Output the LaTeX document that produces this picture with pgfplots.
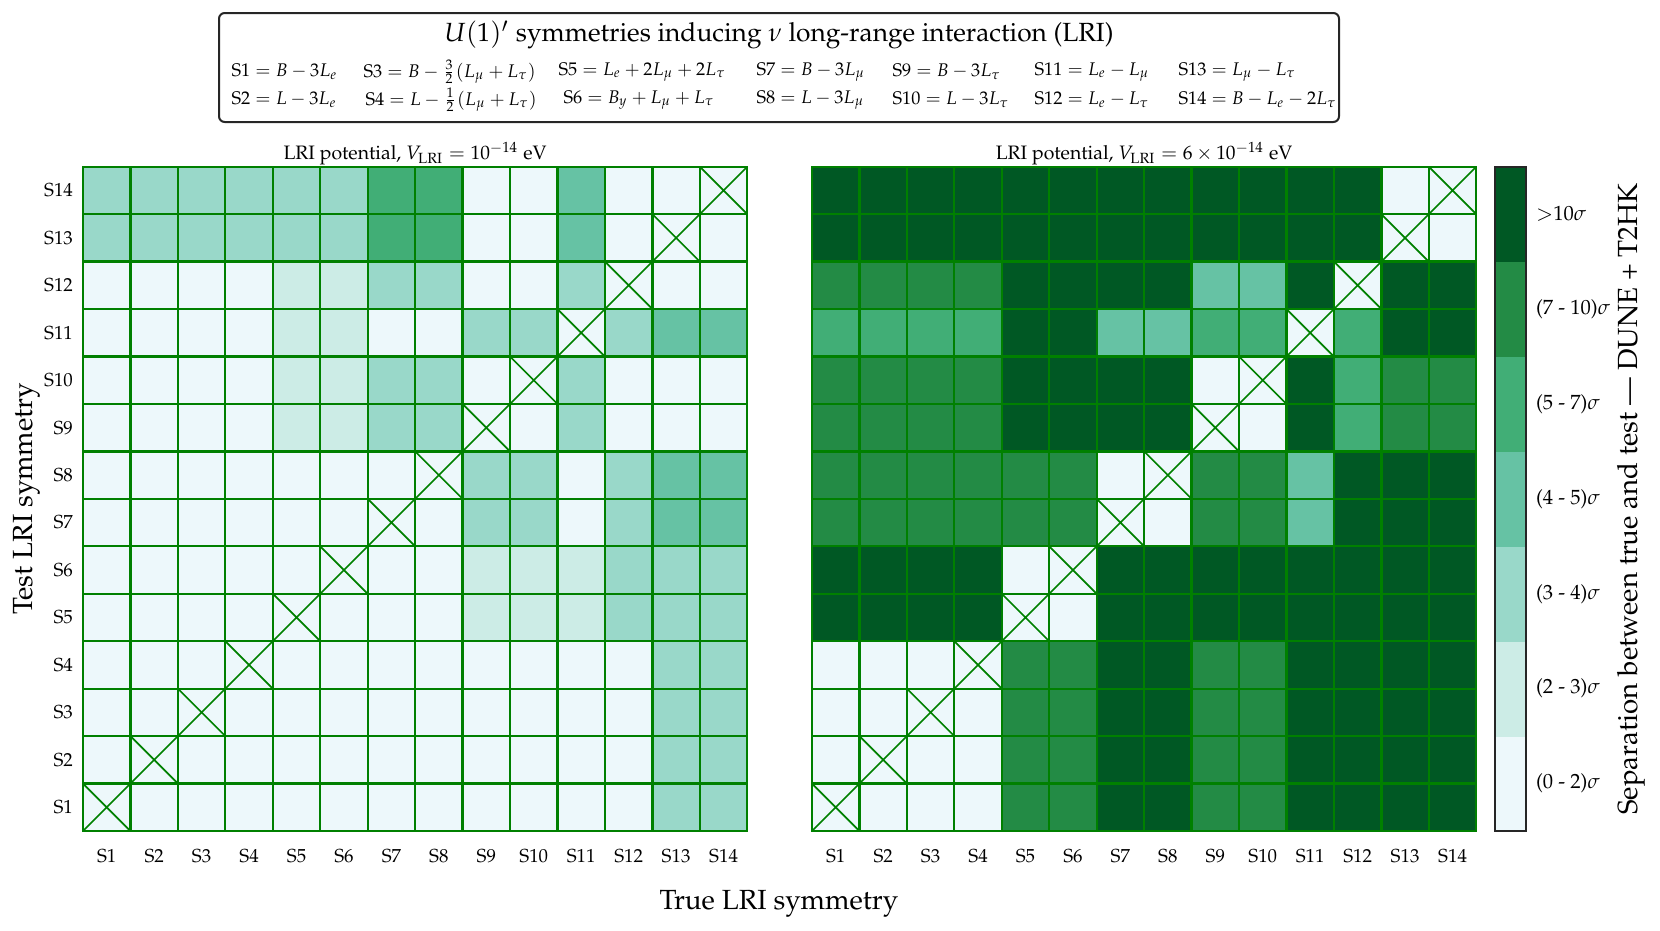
\documentclass[border=0pt]{standalone}
\usepackage[T1]{fontenc}
\usepackage{mathpazo}
\usepackage{amsmath}
\usepackage{pgfplots}
\pgfplotsset{compat=1.18}
\definecolor{cellgrid}{RGB}{0,128,0}

\pgfplotsset{
  sepmap/.style={
    colormap={bugn}{rgb255(0)=(237,248,251) rgb255(1)=(204,236,230)
      rgb255(2)=(153,216,201) rgb255(3)=(102,194,164) rgb255(4)=(65,174,118)
      rgb255(5)=(35,139,69) rgb255(6)=(0,88,36)},
    point meta min=0, point meta max=6,
  },
  heat/.style={
    sepmap,
    set layers=axis on top,
    scale only axis, width=232.5pt, height=232.5pt,
    xmin=0.5, xmax=14.5, ymin=0.5, ymax=14.5,
    xtick={1,...,14}, ytick={1,...,14},
    minor xtick={1.5,2.5,...,13.5}, minor ytick={1.5,2.5,...,13.5},
    xticklabels={S1,S2,S3,S4,S5,S6,S7,S8,S9,S10,S11,S12,S13,S14},
    major tick length=0pt, minor tick length=0pt,
    grid=minor, minor grid style={cellgrid, line width=0.8pt},
    axis line style={cellgrid, line width=0.8pt},
    tick label style={font=\fontsize{6.6}{8}\selectfont},
    xticklabel style={yshift=-3pt},
    title style={font=\fontsize{6.8}{8}\selectfont, yshift=-8.9pt},
    ylabel style={font=\fontsize{9.7}{12}\selectfont,
      at={(axis description cs:-0.085,0.5)}, anchor=center},
  },
  heatcell/.style={scatter, only marks, mark=square*, mark size=8.4pt,
    point meta=explicit,
    scatter/use mapped color={draw=mapped color, fill=mapped color}},
  diagx/.style={only marks, mark=x, mark size=11.74pt, cellgrid,
    mark options={line width=0.6pt}, forget plot},
}

\newcommand\diagcross{%
  \addplot[diagx] coordinates {(1,1)(2,2)(3,3)(4,4)(5,5)(6,6)(7,7)
    (8,8)(9,9)(10,10)(11,11)(12,12)(13,13)(14,14)};}

\begin{document}
\begin{tikzpicture}[x=0.35pt, y=-0.35pt]

% legend box with the symmetry definitions
\draw[black!85, line width=0.7pt, rounded corners=2pt] (219,13) rectangle (1339,122);
\node[font=\fontsize{9.2}{11}\selectfont] at (779,35) {$U(1)'$ symmetries inducing $\nu$ long-range interaction (LRI)};
\begin{scope}[every node/.style={anchor=west, font=\fontsize{6.4}{7.5}\selectfont, inner sep=0pt}]
  \node at (231,72) {S1${}=B-3L_e$};
  \node at (231,100) {S2${}=L-3L_e$};
  \node at (363,72) {S3${}=B-\tfrac{3}{2}(L_\mu+L_\tau)$};
  \node at (365,100) {S4${}=L-\tfrac{1}{2}(L_\mu+L_\tau)$};
  \node at (558,72) {S5${}=L_e+2L_\mu+2L_\tau$};
  \node at (563,100) {S6${}=B_y+L_\mu+L_\tau$};
  \node at (756,72) {S7${}=B-3L_\mu$};
  \node at (756,100) {S8${}=L-3L_\mu$};
  \node at (892,72) {S9${}=B-3L_\tau$};
  \node at (892,100) {S10${}=L-3L_\tau$};
  \node at (1034,72) {S11${}=L_e-L_\mu$};
  \node at (1034,100) {S12${}=L_e-L_\tau$};
  \node at (1178,72) {S13${}=L_\mu-L_\tau$};
  \node at (1178,100) {S14${}=B-L_e-2L_\tau$};
\end{scope}

\begin{axis}[heat, at={(29.05pt,-290.85pt)}, anchor=south west,
  yticklabels={S1,S2,S3,S4,S5,S6,S7,S8,S9,S10,S11,S12,S13,S14},
  ylabel={Test LRI symmetry},
  title={LRI potential, $V_{\mathrm{LRI}}=10^{-14}$ eV}]
\addplot[heatcell] coordinates {
(1,1)[0] (2,1)[0] (3,1)[0] (4,1)[0] (5,1)[0] (6,1)[0] (7,1)[0] (8,1)[0] (9,1)[0] (10,1)[0] (11,1)[0] (12,1)[0] (13,1)[2] (14,1)[2]
(1,2)[0] (2,2)[0] (3,2)[0] (4,2)[0] (5,2)[0] (6,2)[0] (7,2)[0] (8,2)[0] (9,2)[0] (10,2)[0] (11,2)[0] (12,2)[0] (13,2)[2] (14,2)[2]
(1,3)[0] (2,3)[0] (3,3)[0] (4,3)[0] (5,3)[0] (6,3)[0] (7,3)[0] (8,3)[0] (9,3)[0] (10,3)[0] (11,3)[0] (12,3)[0] (13,3)[2] (14,3)[2]
(1,4)[0] (2,4)[0] (3,4)[0] (4,4)[0] (5,4)[0] (6,4)[0] (7,4)[0] (8,4)[0] (9,4)[0] (10,4)[0] (11,4)[0] (12,4)[0] (13,4)[2] (14,4)[2]
(1,5)[0] (2,5)[0] (3,5)[0] (4,5)[0] (5,5)[0] (6,5)[0] (7,5)[0] (8,5)[0] (9,5)[1] (10,5)[1] (11,5)[1] (12,5)[2] (13,5)[2] (14,5)[2]
(1,6)[0] (2,6)[0] (3,6)[0] (4,6)[0] (5,6)[0] (6,6)[0] (7,6)[0] (8,6)[0] (9,6)[1] (10,6)[1] (11,6)[1] (12,6)[2] (13,6)[2] (14,6)[2]
(1,7)[0] (2,7)[0] (3,7)[0] (4,7)[0] (5,7)[0] (6,7)[0] (7,7)[0] (8,7)[0] (9,7)[2] (10,7)[2] (11,7)[0] (12,7)[2] (13,7)[3] (14,7)[3]
(1,8)[0] (2,8)[0] (3,8)[0] (4,8)[0] (5,8)[0] (6,8)[0] (7,8)[0] (8,8)[0] (9,8)[2] (10,8)[2] (11,8)[0] (12,8)[2] (13,8)[3] (14,8)[3]
(1,9)[0] (2,9)[0] (3,9)[0] (4,9)[0] (5,9)[1] (6,9)[1] (7,9)[2] (8,9)[2] (9,9)[0] (10,9)[0] (11,9)[2] (12,9)[0] (13,9)[0] (14,9)[0]
(1,10)[0] (2,10)[0] (3,10)[0] (4,10)[0] (5,10)[1] (6,10)[1] (7,10)[2] (8,10)[2] (9,10)[0] (10,10)[0] (11,10)[2] (12,10)[0] (13,10)[0] (14,10)[0]
(1,11)[0] (2,11)[0] (3,11)[0] (4,11)[0] (5,11)[1] (6,11)[1] (7,11)[0] (8,11)[0] (9,11)[2] (10,11)[2] (11,11)[0] (12,11)[2] (13,11)[3] (14,11)[3]
(1,12)[0] (2,12)[0] (3,12)[0] (4,12)[0] (5,12)[1] (6,12)[1] (7,12)[2] (8,12)[2] (9,12)[0] (10,12)[0] (11,12)[2] (12,12)[0] (13,12)[0] (14,12)[0]
(1,13)[2] (2,13)[2] (3,13)[2] (4,13)[2] (5,13)[2] (6,13)[2] (7,13)[4] (8,13)[4] (9,13)[0] (10,13)[0] (11,13)[3] (12,13)[0] (13,13)[0] (14,13)[0]
(1,14)[2] (2,14)[2] (3,14)[2] (4,14)[2] (5,14)[2] (6,14)[2] (7,14)[4] (8,14)[4] (9,14)[0] (10,14)[0] (11,14)[3] (12,14)[0] (13,14)[0] (14,14)[0]
};
\diagcross
\end{axis}

\begin{axis}[heat, at={(284.2pt,-290.85pt)}, anchor=south west,
  yticklabels={},
  title={LRI potential, $V_{\mathrm{LRI}}=6\times10^{-14}$ eV}]
\addplot[heatcell] coordinates {
(1,1)[0] (2,1)[0] (3,1)[0] (4,1)[0] (5,1)[5] (6,1)[5] (7,1)[6] (8,1)[6] (9,1)[5] (10,1)[5] (11,1)[6] (12,1)[6] (13,1)[6] (14,1)[6]
(1,2)[0] (2,2)[0] (3,2)[0] (4,2)[0] (5,2)[5] (6,2)[5] (7,2)[6] (8,2)[6] (9,2)[5] (10,2)[5] (11,2)[6] (12,2)[6] (13,2)[6] (14,2)[6]
(1,3)[0] (2,3)[0] (3,3)[0] (4,3)[0] (5,3)[5] (6,3)[5] (7,3)[6] (8,3)[6] (9,3)[5] (10,3)[5] (11,3)[6] (12,3)[6] (13,3)[6] (14,3)[6]
(1,4)[0] (2,4)[0] (3,4)[0] (4,4)[0] (5,4)[5] (6,4)[5] (7,4)[6] (8,4)[6] (9,4)[5] (10,4)[5] (11,4)[6] (12,4)[6] (13,4)[6] (14,4)[6]
(1,5)[6] (2,5)[6] (3,5)[6] (4,5)[6] (5,5)[0] (6,5)[0] (7,5)[6] (8,5)[6] (9,5)[6] (10,5)[6] (11,5)[6] (12,5)[6] (13,5)[6] (14,5)[6]
(1,6)[6] (2,6)[6] (3,6)[6] (4,6)[6] (5,6)[0] (6,6)[0] (7,6)[6] (8,6)[6] (9,6)[6] (10,6)[6] (11,6)[6] (12,6)[6] (13,6)[6] (14,6)[6]
(1,7)[5] (2,7)[5] (3,7)[5] (4,7)[5] (5,7)[5] (6,7)[5] (7,7)[0] (8,7)[0] (9,7)[5] (10,7)[5] (11,7)[3] (12,7)[6] (13,7)[6] (14,7)[6]
(1,8)[5] (2,8)[5] (3,8)[5] (4,8)[5] (5,8)[5] (6,8)[5] (7,8)[0] (8,8)[0] (9,8)[5] (10,8)[5] (11,8)[3] (12,8)[6] (13,8)[6] (14,8)[6]
(1,9)[5] (2,9)[5] (3,9)[5] (4,9)[5] (5,9)[6] (6,9)[6] (7,9)[6] (8,9)[6] (9,9)[0] (10,9)[0] (11,9)[6] (12,9)[4] (13,9)[5] (14,9)[5]
(1,10)[5] (2,10)[5] (3,10)[5] (4,10)[5] (5,10)[6] (6,10)[6] (7,10)[6] (8,10)[6] (9,10)[0] (10,10)[0] (11,10)[6] (12,10)[4] (13,10)[5] (14,10)[5]
(1,11)[4] (2,11)[4] (3,11)[4] (4,11)[4] (5,11)[6] (6,11)[6] (7,11)[3] (8,11)[3] (9,11)[4] (10,11)[4] (11,11)[0] (12,11)[4] (13,11)[6] (14,11)[6]
(1,12)[5] (2,12)[5] (3,12)[5] (4,12)[5] (5,12)[6] (6,12)[6] (7,12)[6] (8,12)[6] (9,12)[3] (10,12)[3] (11,12)[6] (12,12)[0] (13,12)[6] (14,12)[6]
(1,13)[6] (2,13)[6] (3,13)[6] (4,13)[6] (5,13)[6] (6,13)[6] (7,13)[6] (8,13)[6] (9,13)[6] (10,13)[6] (11,13)[6] (12,13)[6] (13,13)[0] (14,13)[0]
(1,14)[6] (2,14)[6] (3,14)[6] (4,14)[6] (5,14)[6] (6,14)[6] (7,14)[6] (8,14)[6] (9,14)[6] (10,14)[6] (11,14)[6] (12,14)[6] (13,14)[0] (14,14)[0]
};
\diagcross
\end{axis}

% discrete colour bar
\begin{axis}[sepmap, set layers=axis on top, at={(523.25pt,-290.85pt)}, anchor=south west,
  scale only axis, width=10.85pt, height=232.5pt,
  xmin=-0.5, xmax=0.5, ymin=-0.5, ymax=6.5,
  xtick=\empty, ytick={0,...,6},
  yticklabels={(0 - 2)$\sigma$,(2 - 3)$\sigma$,(3 - 4)$\sigma$,(4 - 5)$\sigma$,(5 - 7)$\sigma$,(7 - 10)$\sigma$,$>$10$\sigma$},
  yticklabel pos=right, major tick length=0pt,
  tick label style={font=\fontsize{7.2}{9}\selectfont},
  yticklabel style={anchor=west, xshift=0pt},
  axis line style={black!85, line width=0.7pt},
  ylabel style={font=\fontsize{9.7}{12}\selectfont,
    at={(axis description cs:4.39,0.5)}, anchor=center},
  ylabel={Separation between true and test --- DUNE + T2HK}]
\addplot[scatter, only marks, mark=square*, mark size=5.5pt,
  mark options={yscale=3.03}, point meta=explicit,
  scatter/use mapped color={draw=mapped color, fill=mapped color}] coordinates {
(0,0)[0] (0,1)[1] (0,2)[2] (0,3)[3] (0,4)[4] (0,5)[5] (0,6)[6]
};
\end{axis}

\node[font=\fontsize{9.7}{12}\selectfont] at (779,904) {True LRI symmetry};

\pgfresetboundingbox
\path[use as bounding box] (0,0) rectangle (1660,930);
\end{tikzpicture}
\end{document}
